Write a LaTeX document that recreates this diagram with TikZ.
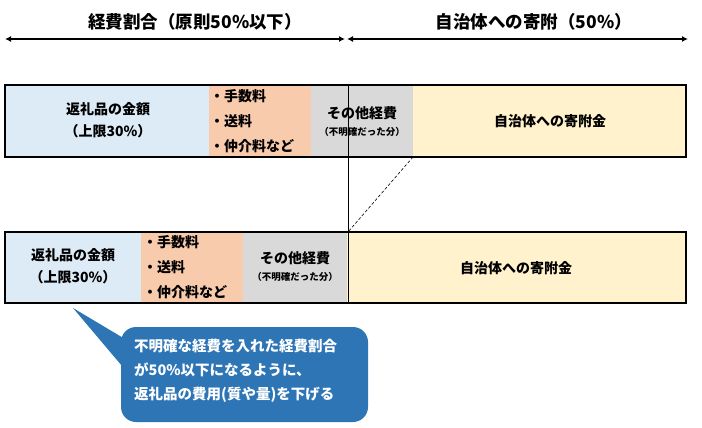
\documentclass[tikz,border=0pt]{standalone}
\usepackage{fontspec}
\setmainfont{Noto Sans CJK JP}
\usetikzlibrary{arrows.meta}
\definecolor{giftblue}{HTML}{DDEBF7}
\definecolor{feeorange}{HTML}{F8CBAD}
\definecolor{othergrey}{HTML}{D9D9D9}
\definecolor{donyellow}{HTML}{FFF2CC}
\definecolor{noteblue}{HTML}{2E75B6}

\begin{document}
\begin{tikzpicture}[x=1pt,y=-1pt,every node/.style={inner sep=0pt},
		title/.style={font=\fontsize{17.5}{20}\selectfont\bfseries},
		cell/.style={font=\fontsize{14}{22}\selectfont\bfseries,align=center},
		bullet/.style={font=\fontsize{14}{25}\selectfont\bfseries,align=left,anchor=west},
		small/.style={font=\fontsize{9.5}{11}\selectfont\bfseries},
		span/.style={line width=1.6pt,{Latex[length=6pt,width=6pt]}-{Latex[length=6pt,width=6pt]}},
		frame/.style={line width=2.4pt}]
			\useasboundingbox (0,0) rectangle (702,428);

			% The two spans at the top and their headings.
			\coordinate (SpanLeft) at (5,39);
			\coordinate (SpanMidL) at (345,39);
			\coordinate (SpanMidR) at (347,39);
			\coordinate (SpanRight) at (688,39);
			\draw[span] (SpanLeft) -- (SpanMidL);
			\draw[span] (SpanMidR) -- (SpanRight);
			\node[title] (costTitle) at (195,22) {経費割合（原則50\%以下）};
			\node[title] (donTitle) at (534,22) {自治体への寄附（50\%）};

			% Upper bar: the split as it was.
			\fill[giftblue] (5,85) rectangle (209,157);
			\fill[feeorange] (209,85) rectangle (311,157);
			\fill[othergrey] (311,85) rectangle (413,157);
			\fill[donyellow] (413,85) rectangle (686,157);
			\node[cell] (giftTop) at (108,120) {返礼品の金額\\（上限30\%）};
			\node[bullet] (feeTop) at (210,121) {・手数料\\・送料\\・仲介料など};
			\node[cell] (otherTop) at (362,113) {その他経費};
			\node[small] (otherTopNote) at (362,132) {（不明確だった分）};
			\node[cell] (donTop) at (550,121) {自治体への寄附金};

			% Lower bar: the gift is made cheaper so the costs stay within half.
			\fill[giftblue] (5,232) rectangle (141,303);
			\fill[feeorange] (141,232) rectangle (243,303);
			\fill[othergrey] (243,232) rectangle (347,303);
			\fill[donyellow] (347,232) rectangle (686,303);
			\node[cell] (giftBot) at (73,266) {返礼品の金額\\（上限30\%）};
			\node[bullet] (feeBot) at (143,267) {・手数料\\・送料\\・仲介料など};
			\node[cell] (otherBot) at (295,258) {その他経費};
			\node[small] (otherBotNote) at (295,277) {（不明確だった分）};
			\node[cell] (donBot) at (516,268) {自治体への寄附金};

			% The half-way mark and the shift of the other costs.
			\coordinate (HalfTop) at (348,85);
			\coordinate (HalfBot) at (348,303);
			\coordinate (OtherEnd) at (413,157);
			\coordinate (OtherNew) at (348,232);
			\draw[line width=0.8pt] (HalfTop) -- (HalfBot);
			\draw[densely dashed,line width=0.6pt] (OtherEnd) -- (OtherNew);

			% Frames go last so they sit on top of the fills.
			\draw[frame] (5,85) rectangle (686,157);
			\draw[frame] (5,232) rectangle (686,303);

			% Speech bubble pointing at the gift cell.
			\coordinate (NoteTip) at (73,308);
			\fill[noteblue] (NoteTip) -- (125,339) -- (122,366) -- cycle;
			\fill[noteblue,rounded corners=15pt] (121,327) rectangle (368,422);
			\node[font=\fontsize{14.5}{24}\selectfont\bfseries,text=white,align=left,anchor=west]
				(note) at (134,371) {不明確な経費を入れた経費割合\\が50\%以下になるように、\\返礼品の費用(質や量)を下げる};
		\end{tikzpicture}
\end{document}
